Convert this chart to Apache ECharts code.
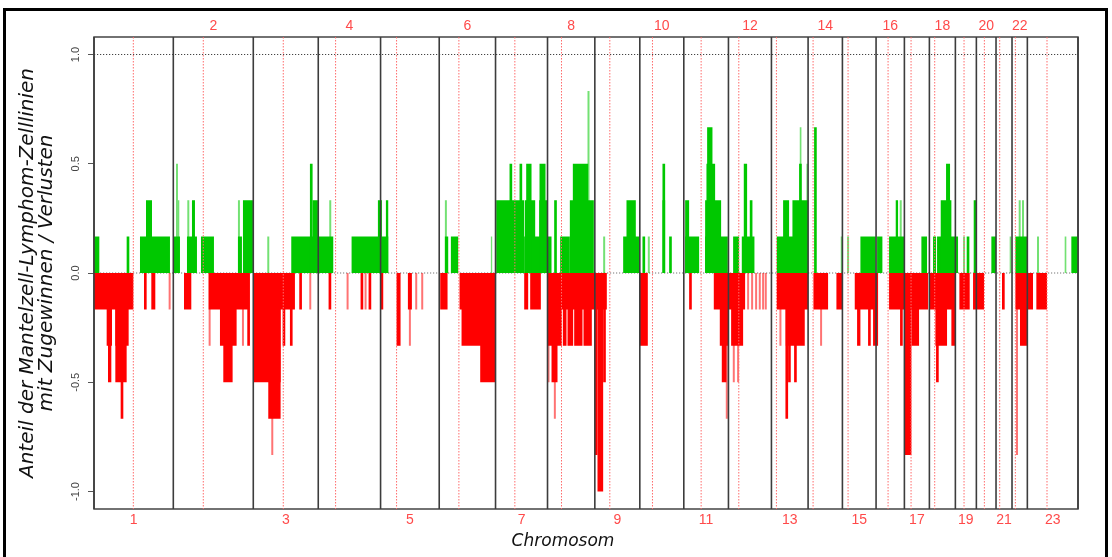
<!DOCTYPE html>
<html>
<head>
<meta charset="utf-8">
<script src="https://cdn.jsdelivr.net/npm/echarts@6/dist/echarts.min.js"></script>
<style>html,body{margin:0;padding:0;background:#fff;}#c{width:1112px;height:557px;}</style>
</head>
<body>
<div id="c"></div>
<script>
// ---- data (genome position in Mb-like units, value = fraction of cell lines) ----
const chromNames = ['1','2','3','4','5','6','7','8','9','10','11','12','13','14','15','16','17','18','19','20','21','22','23'];
const chromLengths = [238,240,195,187,176,169,156,142,135,132,134,129,110,103,101,85,75,78,63,59,48,46,152];
const centromeres = [118,328,568,725,908,1095,1263,1403,1548,1676,1822,1935,2048,2158,2263,2383,2452,2523,2611,2672,2718,2765,2860];
const yTicks = [-1, -0.5, 0, 0.5, 1];
const refLines = [0, 1];

const gainSegments = [
 [0,16,0.167],[98,106,0.167],[138,228,0.167],[156,174,0.333],
 [238,258,0.167],[246,252,0.5],[252,256,0.333],[279,309,0.167],[280,286,0.333],[294,303,0.333],[321,360,0.167],[432,444,0.167],[432,438,0.333],[447,477,0.333],
 [520,526,0.167],[592,718,0.167],[648,656,0.5],[656,672,0.333],[706,712,0.333],
 [773,883,0.167],[852,864,0.333],[876,883,0.333],
 [1053,1063,0.167],[1053,1059,0.333],[1071,1093,0.167],[1191,1195,0.167],
 [1207,1291,0.333],[1291,1361,0.167],[1293,1301,0.333],[1304,1324,0.333],[1336,1361,0.333],[1247,1255,0.5],[1277,1285,0.5],[1297,1313,0.5],[1337,1355,0.5],
 [1361,1373,0.167],[1381,1389,0.333],[1399,1428,0.167],[1428,1500,0.333],[1437,1483,0.5],[1481,1487,0.833],
 [1528,1534,0.167],[1588,1638,0.167],[1598,1626,0.333],
 [1646,1654,0.167],[1662,1668,0.167],[1706,1714,0.5],[1706,1714,0.333],[1726,1734,0.167],
 [1774,1816,0.167],[1774,1786,0.333],[1834,1902,0.167],[1834,1882,0.333],[1838,1864,0.5],[1840,1856,0.667],
 [1918,1936,0.167],[1944,1982,0.167],[1950,1960,0.5],[1968,1976,0.333],
 [2049,2143,0.167],[2068,2086,0.333],[2096,2143,0.333],[2116,2124,0.5],[2118,2123,0.667],[2138,2143,0.5],
 [2161,2169,0.667],[2241,2245,0.167],
 [2260,2266,0.167],[2300,2346,0.167],
 [2350,2366,0.167],[2386,2431,0.167],[2406,2413,0.333],[2418,2424,0.333],
 [2483,2500,0.167],
 [2518,2527,0.167],[2530,2593,0.167],[2541,2573,0.333],[2557,2569,0.5],
 [2608,2614,0.167],[2619,2627,0.167],[2640,2647,0.333],
 [2693,2707,0.167],[2748,2753,0.167],
 [2765,2800,0.167],[2775,2781,0.333],[2785,2791,0.333],
 [2830,2836,0.167],[2913,2918,0.167],[2933,2953,0.167]
];

const lossSegments = [
 [0,118,-0.167],[38,54,-0.333],[42,52,-0.5],[64,104,-0.333],[64,98,-0.5],[80,88,-0.667],[150,158,-0.167],[172,184,-0.167],[224,230,-0.167],
 [270,292,-0.167],[344,464,-0.167],[344,350,-0.333],[378,428,-0.333],[388,416,-0.5],[444,450,-0.333],[460,468,-0.333],
 [478,603,-0.167],[478,560,-0.5],[523,560,-0.667],[532,538,-0.833],[566,574,-0.333],[588,596,-0.333],[616,624,-0.167],[646,652,-0.167],[704,712,-0.167],
 [758,764,-0.167],[800,808,-0.167],[812,818,-0.167],[824,832,-0.167],[860,868,-0.167],
 [908,920,-0.333],[942,954,-0.167],[945,951,-0.333],[964,970,-0.167],[982,988,-0.167],
 [1039,1061,-0.167],[1097,1205,-0.167],[1103,1205,-0.333],[1159,1205,-0.5],
 [1291,1303,-0.167],[1309,1341,-0.167],
 [1361,1503,-0.167],[1361,1404,-0.333],[1407,1418,-0.333],[1421,1438,-0.333],[1441,1466,-0.333],[1469,1494,-0.333],[1361,1367,-0.5],[1373,1391,-0.5],[1380,1386,-0.667],
 [1502,1539,-0.167],[1503,1511,-0.833],[1511,1528,-1],[1528,1536,-0.5],
 [1638,1662,-0.333],
 [1786,1794,-0.167],[1860,1904,-0.167],[1878,1904,-0.333],[1884,1898,-0.5],[1896,1902,-0.667],
 [1904,1954,-0.167],[1912,1948,-0.333],[1917,1923,-0.5],[1930,1936,-0.5],[1960,1966,-0.167],[1972,1978,-0.167],[1984,1990,-0.167],[1995,2001,-0.167],[2005,2011,-0.167],[2013,2019,-0.167],
 [2049,2143,-0.167],[2057,2063,-0.333],[2076,2133,-0.333],[2075,2083,-0.667],[2083,2091,-0.5],[2101,2109,-0.5],
 [2159,2203,-0.167],[2179,2185,-0.333],[2228,2245,-0.167],
 [2283,2347,-0.167],[2290,2300,-0.333],[2323,2331,-0.333],[2338,2353,-0.333],
 [2386,2431,-0.167],[2419,2427,-0.333],
 [2431,2503,-0.167],[2433,2453,-0.833],[2453,2476,-0.333],
 [2507,2585,-0.167],[2525,2560,-0.333],[2527,2535,-0.5],[2573,2584,-0.333],
 [2597,2628,-0.167],[2638,2671,-0.167],
 [2725,2733,-0.167],
 [2765,2818,-0.167],[2767,2773,-0.833],[2779,2800,-0.333],
 [2828,2860,-0.167]
];

// ---- derived helpers ----
const boundaries = [0];
chromLengths.forEach((l, i) => boundaries.push(boundaries[i] + l));
const genomeEnd = boundaries[boundaries.length - 1];
const mids = chromLengths.map((l, i) => boundaries[i] + l / 2);
const oddMids = mids.filter((m, i) => i % 2 === 0);
const evenMids = mids.filter((m, i) => i % 2 === 1);
const Y_MIN = -1.08, Y_MAX = 1.08;
function labelFor(v) {
  let best = 0, bd = Infinity;
  mids.forEach((m, i) => { const d = Math.abs(m - v); if (d < bd) { bd = d; best = i; } });
  return chromNames[best];
}

function barRenderer(color) {
  return function (params, api) {
    const s = api.value(0), e = api.value(1), v = api.value(2);
    const p0 = api.coord([s, v]);
    const p1 = api.coord([e, 0]);
    const w = Math.max(p1[0] - p0[0], 1);
    return {
      type: 'rect',
      shape: { x: p0[0], y: Math.min(p0[1], p1[1]), width: w, height: Math.abs(p1[1] - p0[1]) },
      style: { fill: color, opacity: w < 2.3 ? 0.55 : 1 }
    };
  };
}
function vLineRenderer(stroke, width, dash) {
  return function (params, api) {
    const x = api.value(0);
    const a = api.coord([x, Y_MAX]), b = api.coord([x, Y_MIN]);
    return { type: 'line', shape: { x1: a[0], y1: a[1], x2: b[0], y2: b[1] },
      style: { stroke: stroke, lineWidth: width, lineDash: dash } };
  };
}
function hLineRenderer(params, api) {
  const y = api.value(1);
  const a = api.coord([0, y]), b = api.coord([genomeEnd, y]);
  return { type: 'line', shape: { x1: a[0], y1: a[1], x2: b[0], y2: b[1] },
    style: { stroke: y === 0 ? '#777' : '#444', lineWidth: 1.2, lineDash: [1.2, 1.8] } };
}

const chart = echarts.init(document.getElementById('c'), null, { renderer: 'canvas' });
const FONT = '"Liberation Sans", Arial, sans-serif';
const TITLE_FONT = '"DejaVu Sans", "Liberation Sans", sans-serif';
chart.setOption({
  animation: false,
  backgroundColor: '#fff',
  textStyle: { fontFamily: FONT },
  graphic: [{
    type: 'rect', z: 100, silent: true,
    shape: { x: 4.5, y: 9.5, width: 1102, height: 600 },
    style: { fill: 'none', stroke: '#000', lineWidth: 3 }
  }],
  grid: { left: 94, right: 34, top: 37, bottom: 48, show: true, borderColor: '#444', borderWidth: 1.5, backgroundColor: '#fff' },
  xAxis: [{
    type: 'value', min: 0, max: genomeEnd, position: 'bottom',
    splitLine: { show: false }, axisLine: { show: false }, axisTick: { show: false },
    axisLabel: { customValues: oddMids, formatter: labelFor, color: '#ff4a4a', fontSize: 14, margin: 4, fontFamily: FONT },
    name: 'Chromosom', nameLocation: 'middle', nameGap: 24,
    nameTextStyle: { fontStyle: 'italic', fontSize: 17, color: '#111', fontFamily: TITLE_FONT, padding: [0, 46, 0, 0] }
  }, {
    type: 'value', min: 0, max: genomeEnd, position: 'top',
    splitLine: { show: false }, axisLine: { show: false }, axisTick: { show: false },
    axisLabel: { customValues: evenMids, formatter: labelFor, color: '#ff4a4a', fontSize: 14, margin: 4, fontFamily: FONT }
  }],
  yAxis: {
    type: 'value', min: Y_MIN, max: Y_MAX,
    splitLine: { show: false },
    axisLine: { show: false },
    axisTick: { show: true, customValues: yTicks, length: 6, lineStyle: { color: '#555' } },
    axisLabel: { customValues: yTicks, rotate: 90, formatter: v => v.toFixed(1), color: '#444', fontSize: 11, margin: 13, fontFamily: FONT },
    name: 'Anteil der Mantelzell-Lymphom-Zelllinien\nmit Zugewinnen / Verlusten',
    nameLocation: 'middle', nameRotate: 90, nameGap: 38,
    nameTextStyle: { fontStyle: 'italic', fontSize: 20, lineHeight: 19, color: '#111', fontFamily: TITLE_FONT, align: 'center' }
  },
  series: [
    { type: 'custom', name: 'ref', z: 1, clip: true, renderItem: hLineRenderer,
      data: refLines.map(y => [0, y]), encode: { x: 0, y: 1 } },
    { type: 'custom', name: 'gain', z: 2, clip: true, renderItem: barRenderer('#00c800'),
      data: gainSegments, encode: { x: [0, 1], y: 2 } },
    { type: 'custom', name: 'loss', z: 2, clip: true, renderItem: barRenderer('#ff0000'),
      data: lossSegments, encode: { x: [0, 1], y: 2 } },
    { type: 'custom', name: 'centromere', z: 3, renderItem: vLineRenderer('#ff6b6b', 1, [1.5, 1.5]),
      data: centromeres.map(c => [c, 0]), encode: { x: 0, y: 1 } },
    { type: 'custom', name: 'chromBounds', z: 4, renderItem: vLineRenderer('#3c3c3c', 1.6, null),
      data: boundaries.map(b => [b, 0]), encode: { x: 0, y: 1 } }
  ]
});
</script>
</body>
</html>
